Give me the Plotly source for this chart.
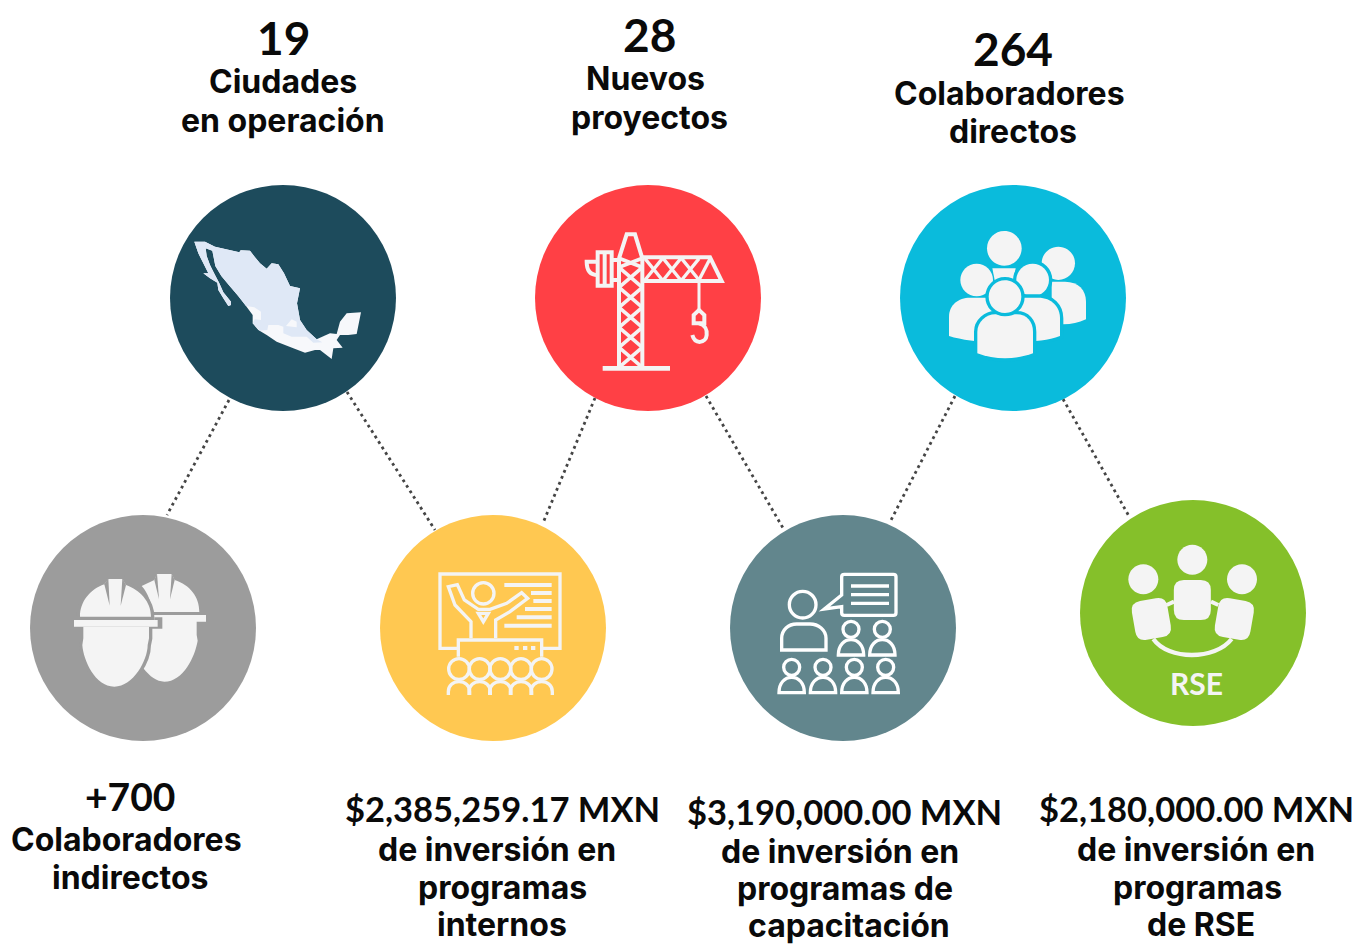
import math
import re
import plotly.graph_objects as go

# ---------- content ----------
TOP_NUMBERS = ["19", "28", "264"]
TOP_LINE_1 = ["Ciudades", "Nuevos", "Colaboradores"]
TOP_LINE_2 = ["en operación", "proyectos", "directos"]
BOTTOM_NUMBERS = ["+700", "$2,385,259.17 MXN", "$3,190,000.00 MXN", "$2,180,000.00 MXN"]
BOTTOM_LINE_1 = ["Colaboradores", "de inversión en", "de inversión en", "de inversión en"]
BOTTOM_LINE_2 = ["indirectos", "programas", "programas de", "programas"]
BOTTOM_LINE_3 = ["", "internos", "capacitación", "de RSE"]
BADGE_TEXT = "RSE"

# ---------- layout / style (pixel space, origin top-left) ----------
W, H = 1357, 944
INK = "#0a0a0a"
ICON = "#f4f4f4"
NAVY, RED, CYAN = "#1d4b5c", "#ff4045", "#0abbdc"
GREY, YELLOW, TEAL, GREEN = "#9c9c9c", "#ffc851", "#62868d", "#85c02a"
FONT_NUM = "Lato"
FONT_TXT = "Inter"
R = 113
NODES = [(283, 298, NAVY), (648, 298, RED), (1013, 298, CYAN),
         (143, 628, GREY), (493, 628, YELLOW), (843, 628, TEAL), (1193, 613, GREEN)]
LINKS = [(229, 400, 167, 515), (347, 392, 435, 530), (595, 398, 543, 523),
         (706, 396, 783, 528), (955, 396, 890, 522), (1063, 399, 1130, 518)]
TOP_POS = [[(283, 37), (283, 81), (283, 120)],
           [(649, 34), (645, 78), (649, 117)],
           [(1013, 48), (1009, 93), (1013, 131)]]
BOTTOM_POS = [[(130, 796), (126, 839), (130, 877)],
              [(502, 808), (497, 849), (502, 887), (502, 924)],
              [(844, 811), (840, 851), (845, 888), (849, 925)],
              [(1196, 808), (1196, 849), (1197, 887), (1201, 924)]]

shapes = []
TOK = re.compile(r"[MLHVCQZ]|-?\d+\.?\d*")


def tf(path, ox, oy):
    """Map a path drawn in 3x zoom space to page pixels."""
    out, cmd, idx = [], "", 0
    for t in TOK.findall(path):
        if t.isalpha():
            cmd, idx = t, 0
            out.append(t)
            continue
        v = float(t) / 3
        if cmd == "H":
            v += ox
        elif cmd == "V":
            v += oy
        else:
            v += ox if idx % 2 == 0 else oy
            idx += 1
        out.append(f"{v:.2f}")
    return " ".join(out)


def circ_path(cx, cy, r):
    k = 0.5523 * r
    return (f"M{cx - r},{cy} C{cx - r},{cy - k} {cx - k},{cy - r} {cx},{cy - r} "
            f"C{cx + k},{cy - r} {cx + r},{cy - k} {cx + r},{cy} "
            f"C{cx + r},{cy + k} {cx + k},{cy + r} {cx},{cy + r} "
            f"C{cx - k},{cy + r} {cx - r},{cy + k} {cx - r},{cy} Z")


def poly(pts, close=True):
    s = "M" + " L".join(f"{x},{y}" for x, y in pts)
    return s + (" Z" if close else "")


def rrect(cx, cy, w, h, r, deg=0):
    a = math.radians(deg)
    c, s_ = math.cos(a), math.sin(a)

    def p(x, y):
        return f"{cx + x * c - y * s_:.2f},{cy + x * s_ + y * c:.2f}"
    x, y = w / 2, h / 2
    return (f"M{p(-x + r, -y)} L{p(x - r, -y)} Q{p(x, -y)} {p(x, -y + r)} "
            f"L{p(x, y - r)} Q{p(x, y)} {p(x - r, y)} L{p(-x + r, y)} "
            f"Q{p(-x, y)} {p(-x, y - r)} L{p(-x, -y + r)} Q{p(-x, -y)} {p(-x + r, -y)} Z")


def add(path, origin, fill=None, stroke=None, sw=0):
    d = dict(type="path", xref="x", yref="y", path=tf(path, *origin), layer="above")
    d["fillcolor"] = fill if fill else "rgba(0,0,0,0)"
    if stroke:
        d["line"] = dict(color=stroke, width=sw / 3)
    else:
        d["line"] = dict(width=0)
    shapes.append(d)


def ringed(path, origin, ring, sw):
    """White fill with a ring in the disc colour round it."""
    add(path, origin, fill=ring, stroke=ring, sw=sw)
    add(path, origin, fill=ICON)


# links
for x0, y0, x1, y1 in LINKS:
    shapes.append(dict(type="line", xref="x", yref="y", x0=x0, y0=y0, x1=x1, y1=y1,
                       line=dict(color="#454545", width=2.8, dash="2.8px,3.7px"), layer="below"))
# discs
for cx, cy, col in NODES:
    shapes.append(dict(type="circle", xref="x", yref="y", x0=cx - R, x1=cx + R, y0=cy - R, y1=cy + R,
                       fillcolor=col, line=dict(width=0), layer="above"))

# --- Mexico ---
O = (160, 180)
NORTH = [(103, 185), (135, 185), (165, 200), (238, 217), (242, 211), (270, 212), (282, 228), (300, 250),
         (320, 266), (335, 250), (355, 253), (372, 280), (390, 318), (420, 325), (411, 370), (420, 420),
         (440, 450), (470, 478)]
SOUTH = [(510, 460), (530, 462), (540, 425), (560, 400), (603, 397), (590, 462), (565, 465), (540, 465),
         (530, 480), (548, 503), (520, 505), (515, 537), (480, 510), (465, 510), (435, 518), (400, 505),
         (350, 485), (320, 465), (295, 450), (278, 430)]
WEST = [(278, 405), (258, 378), (234, 347), (209, 318), (184, 288), (166, 258), (157, 212), (137, 205),
        (140, 228), (150, 255), (165, 285), (178, 310), (190, 337), (213, 365), (213, 375), (205, 378),
        (190, 355), (175, 330), (172, 308), (150, 295), (130, 280), (145, 280), (130, 250), (115, 220)]
MIDDLE = [(487, 487), (460, 488), (440, 470), (395, 470), (370, 460), (370, 440), (355, 435), (325, 435),
          (322, 450), (300, 452), (278, 430), (284, 418), (303, 420), (303, 395), (283, 382)]
add(poly(NORTH + SOUTH + WEST), O, fill="#f7f8fb")
add(poly(NORTH + MIDDLE + WEST[1:]), O, fill="#dfe8f6")
add(poly([(378, 438), (395, 418), (410, 425), (410, 442)]), O, fill="#f7f8fb")

# --- Crane ---
O = (530, 180)
s = dict(stroke=ICON, sw=12)
add("M267,235 V560 M337,235 V560", O, **s)
for y in (262, 322, 382, 442, 502):
    add(f"M267,{y} L337,{y + 60} M337,{y} L267,{y + 60}", O, stroke=ICON, sw=11)
add("M267,235 L337,262 M337,235 L267,262", O, stroke=ICON, sw=11)
add("M267,235 L290,163 H315 L337,235", O, **s)
add("M337,232 H540 L575,303 H337", O, **s)
for x in (345, 400, 455):
    add(f"M{x},236 L{x + 52},300 M{x + 52},236 L{x},300", O, stroke=ICON, sw=10)
add("M507,300 L540,236", O, stroke=ICON, sw=10)
add("M203,217 H245 V317 H203 Z M224,217 V317 M245,240 H267 M245,300 H267", O, **s)
add("M203,245 H170 C170,270 180,285 203,285", O, **s)
add("M507,303 V392", O, stroke=ICON, sw=9)
add("M491,430 V405 L507,390 L523,405 V430 Z", O, **s)
add("M507,430 C525,435 532,450 530,465 C528,490 495,495 487,465", O, **s)
add("M218,565 H420", O, stroke=ICON, sw=14)

# --- People ---
O = (895, 180)
add(circ_path(490, 250, 50), O, fill=ICON)
add("M470,305 H510 C550,305 573,330 573,365 V418 C550,428 530,433 505,433 H470 Z", O, fill=ICON)
add(circ_path(328, 205, 52), O, fill=ICON)
add("M292,265 H362 L355,305 H300 Z", O, fill=ICON)
add(circ_path(245, 300, 49), O, fill=ICON)
add("M162,468 V410 C162,375 190,353 225,353 H300 V490 C250,485 200,480 162,468 Z", O, fill=ICON)
ringed(circ_path(413, 300, 49), O, CYAN, 20)
ringed("M360,353 H430 C470,353 495,380 495,415 V468 C460,482 420,485 360,485 Z", O, CYAN, 20)
ringed("M247,520 V455 C247,425 275,403 300,403 H365 C395,403 414,425 414,455 V520 C360,540 300,540 247,520 Z",
       O, CYAN, 20)
ringed(circ_path(330, 350, 49), O, CYAN, 20)

# --- Helmets ---
O = (25, 510)
add("M350,228 L388,210 L396,192 H440 L449,210 C495,225 523,260 523,306 H380 C380,280 370,250 350,228 Z", O, fill=ICON)
add(poly([(388, 210), (396, 190), (402, 268)]), O, fill=GREY)
add(poly([(440, 190), (449, 210), (435, 268)]), O, fill=GREY)
add("M388,315 H543 V335 H515 V375 L518,392 C510,440 475,515 418,515 C395,515 375,500 355,475 V315 Z", O, fill=ICON)
HEAD = "M175,350 V385 L172,405 C175,450 210,530 268,530 C325,530 368,450 368,405 L372,385 V350 Z"
DOME = "M165,320 C165,275 195,238 238,223 L250,207 H292 L303,225 C345,240 378,275 378,320 Z"
ringed(HEAD, O, GREY, 20)
ringed(DOME, O, GREY, 20)
add(poly([(238, 223), (250, 205), (254, 287)]), O, fill=GREY)
add(poly([(292, 205), (303, 225), (287, 287)]), O, fill=GREY)
add("M388,322 H412 V356 H380 V340 H388 Z", O, fill=GREY)
add("M147,330 H398 V350 H147 Z", O, fill=ICON)

# --- Presentation ---
O = (375, 510)
s = dict(stroke=ICON, sw=10)
add("M247,415 H195 V192 H555 V415 H503", O, **s)
add("M250,440 V390 H500 V440", O, **s)
for x in (418, 444, 468):
    add(f"M{x},408 H{x + 13} V420 H{x} Z", O, fill=ICON)
for x0, y in [(388, 225), (468, 249), (475, 273), (450, 297), (425, 322), (388, 347)]:
    add(f"M{x0},{y} H530", O, stroke=ICON, sw=12)
add(circ_path(325, 250, 32), O, **s)
add("M288,385 V335 L240,285 L220,230 L247,224 L268,270 L310,298 L345,298 L395,280 L440,248 L458,265 "
    "L405,305 L362,330 V385", O, **s)
add("M310,310 L325,335 L340,310 Z", O, **s)
for x in (252, 314, 376, 438, 500):
    add(circ_path(x, 477, 31), O, **s)
    add(f"M{x - 32},555 V545 C{x - 32},525 {x - 17},515 {x},515 C{x + 17},515 {x + 32},525 {x + 32},545 V555", O, **s)

# --- Teacher ---
O = (725, 510)
WH = "#ffffff"
s = dict(stroke=WH, sw=10)
add("M350,255 V200 Q350,193 358,193 H505 Q513,193 513,200 V308 Q513,316 505,316 H358 Q350,316 350,308 V290 "
    "L298,297 Z", O, **s)
for y in (228, 254, 280):
    add(f"M378,{y} H492", O, **s)
add(circ_path(233, 284, 40), O, **s)
add("M170,420 V385 C170,360 190,342 215,342 H255 C280,342 303,360 303,385 V420 Z", O, **s)
for x, y, b in [(378, 358, 435), (472, 358, 435), (200, 472, 548), (294, 472, 548), (388, 472, 548), (482, 472, 548)]:
    add(circ_path(x, y, 24), O, **s)
    add(f"M{x - 38},{b} C{x - 38},{b - 30} {x - 20},{b - 46} {x},{b - 46} "
        f"C{x + 20},{b - 46} {x + 38},{b - 30} {x + 38},{b} Z", O, **s)

# --- RSE people ---
O = (1075, 495)
for x, y in [(352, 194), (205, 253), (501, 253)]:
    add(circ_path(x, y, 45), O, fill=ICON)
add("M235,432 C280,496 420,496 470,432", O, stroke=ICON, sw=13)
add("M275,330 L297,320 M408,320 L430,330", O, stroke=ICON, sw=12)
add(rrect(352, 315, 111, 120, 30), O, fill=ICON)
add(rrect(229, 372, 108, 118, 30, -10), O, fill=ICON)
add(rrect(478, 372, 108, 118, 30, 10), O, fill=ICON)

# ---------- text ----------
annotations = []


def label(text, pos, size, family, color=INK):
    if not text:
        return
    annotations.append(dict(x=pos[0], y=pos[1], xref="x", yref="y", text=f"<b>{text}</b>", showarrow=False,
                            xanchor="center", yanchor="middle",
                            font=dict(family=family, size=size, color=color)))


NUM_BIG = 46
NUM_MONEY = 34.5
LINE = 32
for i, n in enumerate(TOP_NUMBERS):
    label(n, TOP_POS[i][0], NUM_BIG, FONT_NUM)
    label(TOP_LINE_1[i], TOP_POS[i][1], LINE, FONT_TXT)
    label(TOP_LINE_2[i], TOP_POS[i][2], LINE, FONT_TXT)
for i, n in enumerate(BOTTOM_NUMBERS):
    label(n, BOTTOM_POS[i][0], 39 if i == 0 else NUM_MONEY, FONT_NUM)
    label(BOTTOM_LINE_1[i], BOTTOM_POS[i][1], LINE, FONT_TXT)
    label(BOTTOM_LINE_2[i], BOTTOM_POS[i][2], LINE, FONT_TXT)
    if BOTTOM_LINE_3[i]:
        label(BOTTOM_LINE_3[i], BOTTOM_POS[i][3], LINE, FONT_TXT)
label(BADGE_TEXT, (1196, 683), 30, FONT_NUM, ICON)

fig = go.Figure()
fig.update_layout(
    width=W, height=H, margin=dict(l=0, r=0, t=0, b=0), showlegend=False,
    paper_bgcolor="white", plot_bgcolor="white",
    xaxis=dict(range=[0, W], visible=False, fixedrange=True),
    yaxis=dict(range=[H, 0], visible=False, fixedrange=True),
    shapes=shapes, annotations=annotations,
)
fig.write_html("out.html", config={"displayModeBar": False},
               post_script="document.body.style.margin='0';document.body.style.overflow='hidden';")
